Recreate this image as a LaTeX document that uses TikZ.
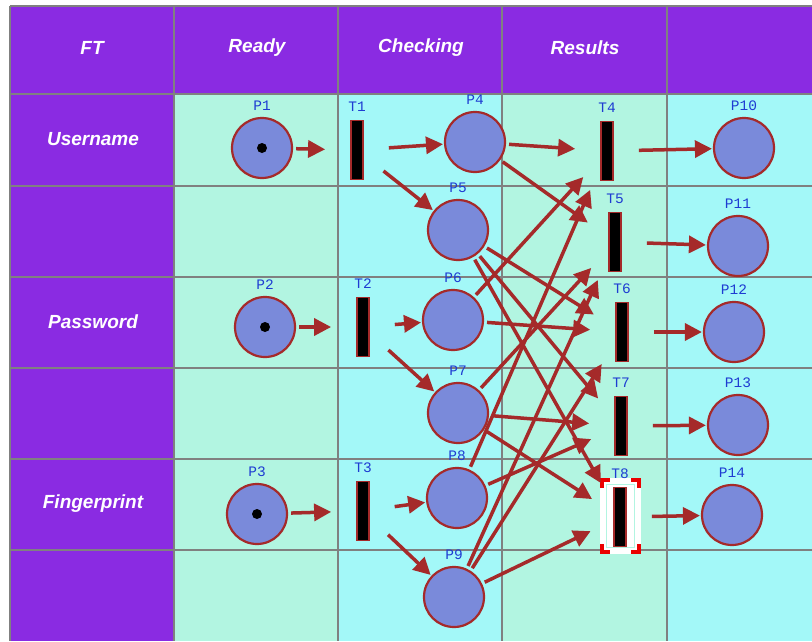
\documentclass[tikz,border=0pt]{standalone}
\usepackage{fontspec}
\setmainfont{Liberation Sans}
\newfontfamily\monofont{Liberation Mono}
\usetikzlibrary{arrows.meta}
\definecolor{hdr}{RGB}{138,43,226}
\definecolor{mintbg}{RGB}{178,245,225}
\definecolor{cyanbg}{RGB}{163,248,248}
\definecolor{gridc}{RGB}{128,128,128}
\definecolor{placefill}{RGB}{122,138,218}
\definecolor{arcc}{RGB}{165,42,42}
\definecolor{lblc}{RGB}{30,60,210}
\definecolor{selred}{RGB}{235,0,0}
\begin{document}
\begin{tikzpicture}[x=1pt,y=-1pt,
  place/.style={circle,draw=arcc,line width=2.2pt,fill=placefill,minimum size=60pt,inner sep=0pt},
  trans/.style={rectangle,draw=arcc,line width=1.8pt,fill=black,minimum width=12pt,minimum height=59pt,inner sep=0pt},
  lbl/.style={text=lblc,font=\monofont\fontsize{14.5}{16}\selectfont,inner sep=0pt},
  hdrtext/.style={text=white,font=\fontsize{19}{22}\selectfont\bfseries\itshape,inner sep=0pt},
  gridline/.style={draw=gridc,line width=1.2pt},
  arcbase/.style={draw=arcc,line width=3.5pt,-{Triangle[length=17pt,width=17pt]}},
  ptarc/.style={arcbase,shorten <=3pt,shorten >=25pt},
  tparc/.style={arcbase,shorten <=25pt,shorten >=1pt},
  selcorner/.style={draw=selred,line width=4pt},
  plabel/.style={label={[lbl,label distance=6.5pt]above:#1}},
  tlabel/.style={label={[lbl,label distance=7.5pt]above:#1}}
]
\useasboundingbox (0,0) rectangle (812,641);
\fill[white] (0,0) rectangle (812,641);
% backgrounds
\fill[hdr] (10,6) rectangle (812,94);
\fill[hdr] (10,94) rectangle (174,641);
\fill[mintbg] (174,94) rectangle (338,641);
\fill[cyanbg] (338,94) rectangle (502,641);
\fill[mintbg] (502,94) rectangle (667,641);
\fill[cyanbg] (667,94) rectangle (812,641);
% grid
\foreach \gx in {10,174,338,502,667} \draw[gridline] (\gx,6) -- (\gx,641);
\foreach \gy in {6,94,186,277,368,459,550} \draw[gridline] (10,\gy) -- (812,\gy);
% header texts
\node[hdrtext] (hFT) at (92,48) {FT};
\node[hdrtext] (hReady) at (257,48) {Ready};
\node[hdrtext] (hChecking) at (421,48) {Checking};
\node[hdrtext] (hResults) at (585,48) {Results};
\node[hdrtext] (rUser) at (93,139) {Username};
\node[hdrtext] (rPass) at (93,322) {Password};
\node[hdrtext] (rFinger) at (93,504) {Fingerprint};
% selection frame around T8
\fill[white] (600,478) rectangle (641,554);
\draw[mintbg,line width=1.5pt,fill=white] (606.5,484.5) rectangle (634.5,547.5);
\draw[selcorner] (602,488) -- (602,480) -- (610,480);
\draw[selcorner] (631,480) -- (639,480) -- (639,488);
\draw[selcorner] (602,544) -- (602,552) -- (610,552);
\draw[selcorner] (631,552) -- (639,552) -- (639,544);
% places
\node[place,plabel=P1] (P1) at (262,148) {};
\node[place,plabel=P2] (P2) at (265,327) {};
\node[place,plabel=P3] (P3) at (257,514) {};
\node[place,plabel=P4] (P4) at (475,142) {};
\node[place,plabel=P5] (P5) at (458,230) {};
\node[place,plabel=P6] (P6) at (453,320) {};
\node[place,plabel=P7] (P7) at (458,413) {};
\node[place,plabel=P8] (P8) at (457,498) {};
\node[place,plabel=P9] (P9) at (454,597) {};
\node[place,plabel=P10] (P10) at (744,148) {};
\node[place,plabel=P11] (P11) at (738,246) {};
\node[place,plabel=P12] (P12) at (734,332) {};
\node[place,plabel=P13] (P13) at (738,425) {};
\node[place,plabel=P14] (P14) at (732,515) {};
% tokens
\fill[black] (P1.center) circle[radius=5pt];
\fill[black] (P2.center) circle[radius=5pt];
\fill[black] (P3.center) circle[radius=5pt];
% transitions
\node[trans,tlabel=T1] (T1) at (357,150) {};
\node[trans,tlabel=T2] (T2) at (363,327) {};
\node[trans,tlabel=T3] (T3) at (363,511) {};
\node[trans,tlabel=T4] (T4) at (607,151) {};
\node[trans,tlabel=T5] (T5) at (615,242) {};
\node[trans,tlabel=T6] (T6) at (622,332) {};
\node[trans,tlabel=T7] (T7) at (621,426) {};
\node[trans,tlabel=T8] (T8) at (620,517) {};
% arcs
\draw[ptarc] (P1) -- (T1);
\draw[ptarc] (P2) -- (T2);
\draw[ptarc] (P3) -- (T3);
\draw[tparc] (T1) -- (P4);
\draw[tparc] (T1) -- (P5);
\draw[tparc] (T2) -- (P6);
\draw[tparc] (T2) -- (P7);
\draw[tparc] (T3) -- (P8);
\draw[tparc] (T3) -- (P9);
\draw[ptarc] (P4) -- (T4);
\draw[ptarc] (P4) -- (T5);
\draw[ptarc] (P5) -- (T6);
\draw[ptarc] (P5) -- (T7);
\draw[ptarc] (P5) -- (T8);
\draw[ptarc] (P6) -- (T4);
\draw[ptarc] (P6) -- (T6);
\draw[ptarc] (P7) -- (T5);
\draw[ptarc] (P7) -- (T7);
\draw[ptarc] (P7) -- (T8);
\draw[ptarc] (P8) -- (T4);
\draw[ptarc] (P8) -- (T7);
\draw[ptarc] (P9) -- (T5);
\draw[ptarc] (P9) -- (T6);
\draw[ptarc] (P9) -- (T8);
\draw[tparc] (T4) -- (P10);
\draw[tparc] (T5) -- (P11);
\draw[tparc] (T6) -- (P12);
\draw[tparc] (T7) -- (P13);
\draw[tparc] (T8) -- (P14);
\end{tikzpicture}
\end{document}
